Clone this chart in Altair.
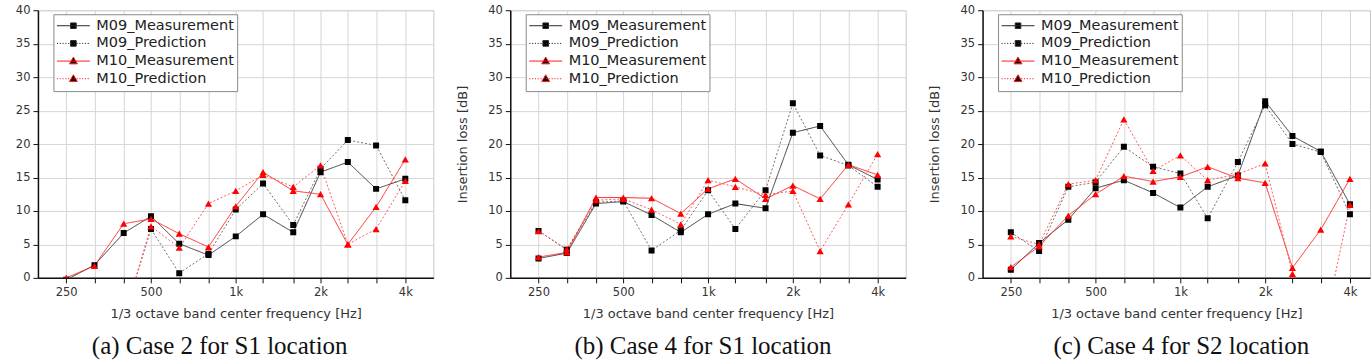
import altair as alt
import pandas as pd

# 1/3-octave band centre frequencies [Hz]
FREQS = [250, 315, 400, 500, 630, 800, 1000, 1250, 1600, 2000, 2500, 3150, 4000]
TICK_FREQS = [250, 500, 1000, 2000, 4000]
TICK_LABELS = ["250", "500", "1k", "2k", "4k"]
SERIES = ["M09_Measurement", "M09_Prediction", "M10_Measurement", "M10_Prediction"]

# (a) Case 2 for S1 location — insertion loss [dB]
A_M09_MEAS = [-0.3, 1.9, 6.7, 9.2, 5.1, 3.4, 6.2, 9.5, 6.8, 15.8, 17.3, 13.3, 14.8]
A_M09_PRED = [-12.0, -9.0, -6.0, 7.3, 0.7, 3.6, 10.2, 14.1, 7.9, 16.3, 20.6, 19.8, 11.6]
A_M10_MEAS = [0.0, 1.8, 8.1, 8.8, 6.6, 4.6, 10.7, 15.8, 13.0, 12.5, 5.0, 10.6, 17.7]
A_M10_PRED = [-12.0, -9.0, -6.0, 7.7, 4.5, 11.1, 13.0, 15.4, 13.6, 16.8, 5.0, 7.3, 14.5]

# (b) Case 4 for S1 location
B_M09_MEAS = [2.9, 3.7, 11.1, 11.4, 9.4, 6.8, 9.5, 11.1, 10.4, 21.7, 22.7, 16.9, 14.7]
B_M09_PRED = [7.0, 4.2, 11.3, 11.5, 4.1, 7.1, 13.1, 7.3, 13.1, 26.1, 18.3, 16.8, 13.6]
B_M10_MEAS = [3.1, 3.8, 12.0, 12.0, 11.9, 9.6, 13.3, 14.8, 11.8, 13.8, 11.8, 16.9, 15.4]
B_M10_PRED = [7.0, 4.3, 11.6, 11.8, 10.2, 8.0, 14.6, 13.6, 12.4, 13.0, 4.0, 11.0, 18.5]

# (c) Case 4 for S2 location
C_M09_MEAS = [1.2, 5.2, 8.7, 13.4, 14.6, 12.7, 10.5, 13.6, 15.3, 26.4, 21.2, 18.9, 11.0]
C_M09_PRED = [6.8, 4.0, 13.6, 14.3, 19.6, 16.6, 15.6, 8.9, 17.3, 25.8, 20.0, 18.8, 9.5]
C_M10_MEAS = [1.6, 4.7, 9.3, 12.5, 15.2, 14.4, 15.1, 16.6, 14.9, 14.2, 1.5, 7.2, 14.8]
C_M10_PRED = [6.2, 5.0, 14.0, 14.6, 23.7, 16.0, 18.3, 14.6, 15.5, 17.1, 0.6, -9.7, 10.9]

LINE_COLORS = ["#3c3c3c", "#6e6e6e", "#ff2a2a", "#ff5a5a"]
MARKER_COLORS = ["#000000", "#000000", "#ff0000", "#ff0000"]
KEY_COLORS = ["#2a2a2a", "#2a2a2a", "#ff1a1a", "#ff1a1a"]
DASHES = [[1, 0], [2, 2], [1, 0], [2, 2]]
SHAPES = ["square", "square", "triangle-up", "triangle-up"]

SANS = "DejaVu Sans"
SERIF = "Liberation Serif"
BAND_PX = 28.3          # pixel width of one 1/3-octave band
PANEL_H = 268


def legend_path(dotted, marker):
    """Line + marker glyph in the [-1, 1] unit box used by custom symbols."""
    if dotted:
        segs, x = [], -1.0
        while x < 1.0:
            segs.append(f"M{x:.3f},0H{min(x + 0.07, 1.0):.3f}")
            x += 0.17
        line = "".join(segs)
    else:
        line = "M-1,0H1"
    if marker == "square":
        m = "M-0.17,-0.17H0.17V0.17H-0.17Z"
    else:
        m = "M0,-0.24L0.24,0.17H-0.24Z"
    return line + m


LEGEND_PATHS = [
    legend_path(False, "square"),
    legend_path(True, "square"),
    legend_path(False, "triangle"),
    legend_path(True, "triangle"),
]


def frame(cols):
    rows = []
    for name, vals in zip(SERIES, cols):
        for f, v in zip(FREQS, vals):
            rows.append({"freq": f, "il": v, "series": name})
    return pd.DataFrame(rows)


label_expr = "".join(
    f"datum.value == {f} ? '{l}' : " for f, l in zip(TICK_FREQS, TICK_LABELS)
) + "''"


def panel(cols, width, y_title, caption, cap_dx):
    n_bands = width / BAND_PX
    xmin = FREQS[0] * 2 ** (-1 / 3)
    xmax = FREQS[0] * 2 ** ((n_bands - 1) / 3)
    df = frame(cols)

    x = alt.X(
        "freq:Q",
        scale=alt.Scale(type="log", domain=[xmin, xmax], nice=False, zero=False),
        axis=alt.Axis(
            values=FREQS,
            labelExpr=label_expr,
            title="1/3 octave band center frequency [Hz]",
            labelPadding=4,
            titlePadding=9,
        ),
    )
    y = alt.Y(
        "il:Q",
        scale=alt.Scale(domain=[0, 40], nice=False),
        axis=alt.Axis(title=y_title, values=list(range(0, 41, 5)), labelPadding=3, titlePadding=18),
    )
    base = alt.Chart(df).encode(x=x, y=y)

    lines = base.mark_line(clip=True, strokeWidth=1).encode(
        color=alt.Color("series:N", scale=alt.Scale(domain=SERIES, range=LINE_COLORS), legend=None),
        strokeDash=alt.StrokeDash("series:N", scale=alt.Scale(domain=SERIES, range=DASHES), legend=None),
    )
    points = base.mark_point(filled=True, clip=True, opacity=1).encode(
        color=alt.Color("series:N", scale=alt.Scale(domain=SERIES, range=MARKER_COLORS), legend=None),
        shape=alt.Shape("series:N", scale=alt.Scale(domain=SERIES, range=SHAPES), legend=None),
        size=alt.condition("indexof(datum.series, 'M09') == 0", alt.value(36), alt.value(52)),
    )

    leg = alt.Legend(
        title=None,
        orient="none",
        legendX=15.5,
        legendY=4,
        fillColor="white",
        strokeColor="#8a8a8a",
        padding=3,
        labelFont=SANS,
        labelFontSize=14.5,
        labelColor="#222222",
        labelOffset=6,
        symbolSize=1089,
        symbolStrokeWidth=1,
        clipHeight=17,
        rowPadding=0.7,
    )
    key = (
        alt.Chart(df)
        .transform_filter("false")
        .mark_point(filled=False, opacity=1, size=1089, strokeWidth=1)
        .encode(
            color=alt.Color("series:N", scale=alt.Scale(domain=SERIES, range=KEY_COLORS), legend=leg),
            fill=alt.Fill("series:N", scale=alt.Scale(domain=SERIES, range=MARKER_COLORS), legend=leg),
            shape=alt.Shape("series:N", scale=alt.Scale(domain=SERIES, range=LEGEND_PATHS), legend=leg),
        )
    )

    return (
        alt.layer(lines, points, key)
        .resolve_scale(color="independent", shape="independent")
        .properties(
            width=width,
            height=PANEL_H,
            title=alt.TitleParams(
                caption,
                orient="bottom",
                anchor="middle",
                frame="group",
                font=SERIF,
                fontSize=25,
                fontWeight="normal",
                color="#111111",
                dx=cap_dx,
                offset=14,
            ),
        )
    )


pa = panel([A_M09_MEAS, A_M09_PRED, A_M10_MEAS, A_M10_PRED], 396, None,
           "(a) Case 2 for S1 location", -16)
pb = panel([B_M09_MEAS, B_M09_PRED, B_M10_MEAS, B_M10_PRED], 396, "Insertion loss [dB]",
           "(b) Case 4 for S1 location", -5)
pc = panel([C_M09_MEAS, C_M09_PRED, C_M10_MEAS, C_M10_PRED], 388, "Insertion loss [dB]",
           "(c) Case 4 for S2 location", 5)

chart = (
    alt.hconcat(pa, pb, pc, spacing=77, bounds="flush")
    .properties(padding={"left": 14, "top": 3, "right": 0, "bottom": 0})
    .configure_view(stroke="#c8c8c8", strokeWidth=1)
    .configure_axis(
        domainColor="#111111",
        domainWidth=1.5,
        tickColor="#111111",
        tickWidth=1,
        tickSize=5,
        labelFont=SANS,
        labelFontSize=11.5,
        labelColor="#333333",
        titleFont=SANS,
        titleFontSize=13,
        titleFontWeight="normal",
        titleColor="#333333",
        gridColor="#d6d6d6",
        gridWidth=1,
    )
)

chart.save("out.html", embed_options={"renderer": "svg", "actions": False})
